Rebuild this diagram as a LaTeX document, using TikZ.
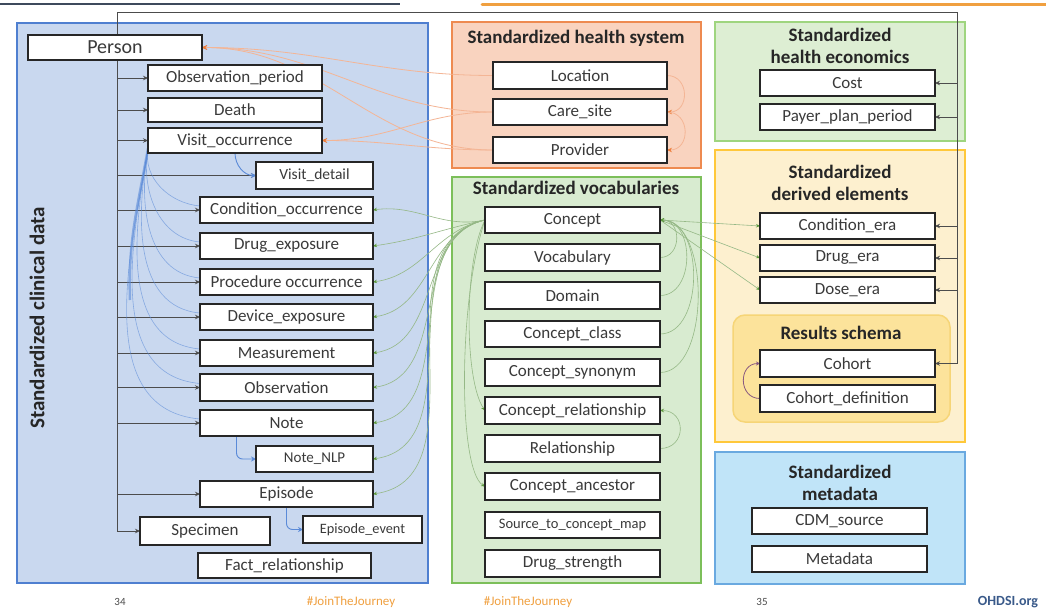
\documentclass[tikz,border=0pt]{standalone}
\usepackage{fontspec}
\setmainfont{Carlito}
\usetikzlibrary{arrows.meta}
\pgfdeclarelayer{bg}
\pgfdeclarelayer{mid}
\pgfsetlayers{bg,mid,main}
\definecolor{clinfill}{HTML}{C9D8EF}
\definecolor{clinline}{HTML}{4F7FD0}
\definecolor{hsfill}{HTML}{F9D3BF}
\definecolor{hsline}{HTML}{EE8A50}
\definecolor{vocfill}{HTML}{D8EBD0}
\definecolor{vocline}{HTML}{7CBF5A}
\definecolor{ecofill}{HTML}{DDEED3}
\definecolor{ecoline}{HTML}{9FD57F}
\definecolor{derfill}{HTML}{FDF0CF}
\definecolor{derline}{HTML}{FFC83A}
\definecolor{resfill}{HTML}{FCE39B}
\definecolor{resline}{HTML}{F6D577}
\definecolor{metfill}{HTML}{C0E4F8}
\definecolor{metline}{HTML}{6AA9E0}
\definecolor{txt}{HTML}{3A3A3A}
\definecolor{grnl}{HTML}{95B886}
\definecolor{grnt}{HTML}{5E9A3E}
\definecolor{orgl}{HTML}{F4B595}
\definecolor{orgt}{HTML}{EE7D3A}
\definecolor{blul}{HTML}{5A8AD8}
\definecolor{purl}{HTML}{8A5A80}
\definecolor{topdark}{HTML}{3D4A5C}
\definecolor{toporange}{HTML}{F0A040}
\definecolor{ohdsi}{HTML}{3A5A8A}
\newcommand\tbox[7][]{\node[tbl,#1,minimum width={(#5-#3)*1pt},minimum height={(#6-#4)*1pt}] (#2) at ({(#3+#5)/2},{(#4+#6)/2}) {#7};}
\begin{document}
\begin{tikzpicture}[x=1pt,y=-1pt,
  tbl/.style={draw=black!85,line width=2pt,fill=white,inner sep=0pt,outer sep=0pt,text=txt,font=\fontsize{17}{19}\selectfont},
  gtitle/.style={font=\bfseries\fontsize{19}{22}\selectfont,text=black!85,align=center,inner sep=0pt},
  grp/.style={line width=1.5pt},
  trunk/.style={draw=black!70,line width=0.9pt},
  blk/.style={draw=black!70,line width=0.9pt,-{Stealth[length=5pt,width=4.5pt]}},
  bluarr/.style={draw=blul,line width=0.9pt,-{Stealth[length=5pt,width=5pt]}},
  blufan/.style={draw=blul,line width=0.6pt,opacity=0.6},
  grnarr/.style={draw=grnl,line width=0.6pt,-{Stealth[length=4pt,width=3.5pt,color=grnt,fill=grnt]}},
  orgarr/.style={draw=orgl,line width=0.8pt,-{Stealth[length=5pt,width=4.5pt,color=orgt,fill=orgt]}},
  purarr/.style={draw=purl,line width=0.8pt,-{Stealth[length=4pt,width=4pt]}},
  foot/.style={font=\fontsize{13}{14}\selectfont,inner sep=0pt}
]
\useasboundingbox (0,0) rectangle (1046,608);
\begin{pgfonlayer}{bg}
\fill[white] (0,0) rectangle (1046,608);
% top slide lines
\draw[topdark,line width=2.5pt] (0,4) -- (400,4);
\draw[toporange,line width=3pt,line cap=round] (482,4) -- (1046,4);
% groups
\draw[grp,fill=clinfill,draw=clinline] (17,23) rectangle (428,583);
\draw[grp,fill=hsfill,draw=hsline] (452,22) rectangle (701,168);
\draw[grp,fill=vocfill,draw=vocline] (452,177) rectangle (701,583);
\draw[grp,fill=ecofill,draw=ecoline] (715,22) rectangle (965,141);
\draw[grp,fill=derfill,draw=derline] (715,150) rectangle (965,442);
\draw[grp,fill=resfill,draw=resline,rounded corners=12pt] (733,315) rectangle (950,422);
\draw[grp,fill=metfill,draw=metline] (715,452) rectangle (965,584);
\end{pgfonlayer}
% titles
\node[gtitle,rotate=90,font=\bfseries\fontsize{21}{24}\selectfont] (clintitle) at (37,318) {Standardized clinical data};
\node[gtitle] (hstitle) at (576,38) {Standardized health system};
\node[gtitle] (voctitle) at (576,188) {Standardized vocabularies};
\node[gtitle] (ecotitle) at (840,46) {Standardized\\health economics};
\node[gtitle] (dertitle) at (840,183) {Standardized\\derived elements};
\node[gtitle] (restitle) at (841,333) {Results schema};
\node[gtitle] (mettitle) at (840,483) {Standardized\\metadata};
% clinical tables
\tbox[font=\fontsize{20}{22}\selectfont]{person}{28}{35}{202}{60}{Person}
\tbox{obsp}{148}{65}{322}{91}{Observation\_period}
\tbox{death}{148}{98}{322}{122}{Death}
\tbox{visocc}{148}{128}{322}{153}{Visit\_occurrence}
\tbox[font=\fontsize{15.5}{17}\selectfont]{visdet}{256}{162}{373}{189}{Visit\_detail}
\tbox{cond}{200}{197}{373}{223}{Condition\_occurrence}
\tbox{drug}{200}{233}{373}{259}{Drug\_exposure}
\tbox{proc}{200}{269}{373}{295}{Procedure occurrence}
\tbox{dev}{200}{304}{373}{330}{Device\_exposure}
\tbox{meas}{200}{340}{373}{366}{Measurement}
\tbox{obs}{200}{374}{373}{401}{Observation}
\tbox{note}{200}{410}{373}{436}{Note}
\tbox[font=\fontsize{15}{17}\selectfont]{nlp}{256}{446}{373}{472}{Note\_NLP}
\tbox{epi}{200}{481}{373}{507}{Episode}
\tbox{spec}{140}{517}{270}{545}{Specimen}
\tbox[font=\fontsize{14.3}{16}\selectfont]{epev}{303}{516}{422}{543}{Episode\_event}
\tbox{fact}{198}{553}{371}{578}{Fact\_relationship}
% health system
\tbox{loc}{493}{62}{667}{89}{Location}
\tbox{care}{493}{99}{667}{125}{Care\_site}
\tbox{prov}{493}{137}{667}{163}{Provider}
% vocabularies
\tbox{concept}{485}{207}{660}{233}{Concept}
\tbox{vocab}{485}{244}{660}{271}{Vocabulary}
\tbox{dom}{485}{282}{660}{309}{Domain}
\tbox{cclass}{485}{321}{660}{347}{Concept\_class}
\tbox{csyn}{485}{359}{660}{386}{Concept\_synonym}
\tbox{crel}{485}{397}{660}{424}{Concept\_relationship}
\tbox{rel}{485}{435}{660}{462}{Relationship}
\tbox{canc}{485}{473}{660}{500}{Concept\_ancestor}
\tbox[font=\fontsize{14.5}{16}\selectfont]{stcm}{485}{512}{660}{538}{Source\_to\_concept\_map}
\tbox{dstr}{485}{550}{660}{577}{Drug\_strength}
% right column
\tbox{cost}{760}{70}{935}{96}{Cost}
\tbox{ppp}{760}{104}{935}{130}{Payer\_plan\_period}
\tbox{condera}{760}{213}{935}{239}{Condition\_era}
\tbox{drugera}{760}{245}{935}{271}{Drug\_era}
\tbox{doseera}{760}{277}{935}{303}{Dose\_era}
\tbox{cohort}{760}{350}{935}{377}{Cohort}
\tbox{cohdef}{760}{385}{935}{412}{Cohort\_definition}
\tbox{cdm}{752}{508}{927}{534}{CDM\_source}
\tbox{meta}{752}{546}{927}{572}{Metadata}
% footer
\node[foot,text=black!70,font=\fontsize{11}{12}\selectfont] (p34) at (120,602) {34};
\node[foot,text=toporange] (jtj1) at (351,602) {\#JoinTheJourney};
\node[foot,text=toporange] (jtj2) at (528,602) {\#JoinTheJourney};
\node[foot,text=black!70,font=\fontsize{11}{12}\selectfont] (p35) at (762,602) {35};
\node[foot,text=ohdsi,font=\bfseries\fontsize{14}{15}\selectfont] (ohdsi) at (1008,602) {OHDSI.org};
% connectors
\begin{pgfonlayer}{mid}
\coordinate (tl) at (117,12);
\coordinate (tbot) at (117,531);
\coordinate (tr) at (957,12);
\coordinate (trb) at (957,363.5);
\draw[trunk] (tbot) -- (tl) -- (tr) -- (trb);
\foreach \t in {obsp,death,visocc,visdet,cond,drug,proc,dev,meas,obs,note,epi,spec}
  \draw[blk] (\t.west -| tl) -- (\t.west);
\foreach \t in {cost,ppp,condera,drugera,doseera,cohort}
  \draw[blk] (\t.east -| tr) -- (\t.east);
% visit fan
\foreach \t in {cond,drug,proc,dev,meas,obs,note}
  \draw[blufan] ([yshift=-8pt]visocc.west) to[out=-100,in=175] ([yshift=4pt]\t.west);
\draw[blufan,line width=2.5pt] ([yshift=-8pt]visocc.west) to[out=-100,in=92] (130,300);
\draw[bluarr] (visocc.south) to[out=-90,in=180] (visdet.west);
\draw[bluarr,rounded corners=6pt] ([xshift=-50pt]note.south) |- (nlp.west);
\draw[bluarr,rounded corners=6pt] (epi.south) |- (epev.west);
% concept fan
\foreach \t in {cond,drug,proc,dev,meas,obs,note,nlp,epi}
  \draw[grnarr] (concept.west) to[out=192,in=8] (\t.east);
\foreach \t in {condera,drugera,doseera}
  \draw[grnarr] (concept.east) -- (\t.west);
\draw[grnarr] (vocab.east) to[out=0,in=0,looseness=1.5] (concept.east);
\draw[grnarr] (dom.east) to[out=0,in=0,looseness=1.2] (concept.east);
\draw[grnarr] (cclass.east) to[out=0,in=0,looseness=1] (concept.east);
\draw[grnarr] (csyn.east) to[out=0,in=0,looseness=0.85] (concept.east);
\draw[grnarr] (rel.east) to[out=0,in=0,looseness=1.8] (crel.east);
\draw[grnarr] (concept.west) .. controls (464,260) and (464,380) .. (crel.west);
\draw[grnarr] (concept.west) .. controls (458,300) and (458,470) .. (canc.west);
% health system
\draw[orgarr] (loc.west) to[out=180,in=0] (person.east);
\draw[orgarr] (care.west) to[out=180,in=0] (person.east);
\draw[orgarr] (prov.west) to[out=180,in=0] (person.east);
\draw[orgarr] (care.west) to[out=180,in=0] (visocc.east);
\draw[orgarr] (prov.west) to[out=180,in=0] (visocc.east);
\draw[orgarr] (loc.east) to[out=0,in=0,looseness=1.6] (care.east);
\draw[orgarr] (care.east) to[out=0,in=0,looseness=1.6] (prov.east);
% cohort
\draw[purarr] (cohdef.west) to[out=180,in=180,looseness=1.6] (cohort.west);
\end{pgfonlayer}
\end{tikzpicture}
\end{document}
